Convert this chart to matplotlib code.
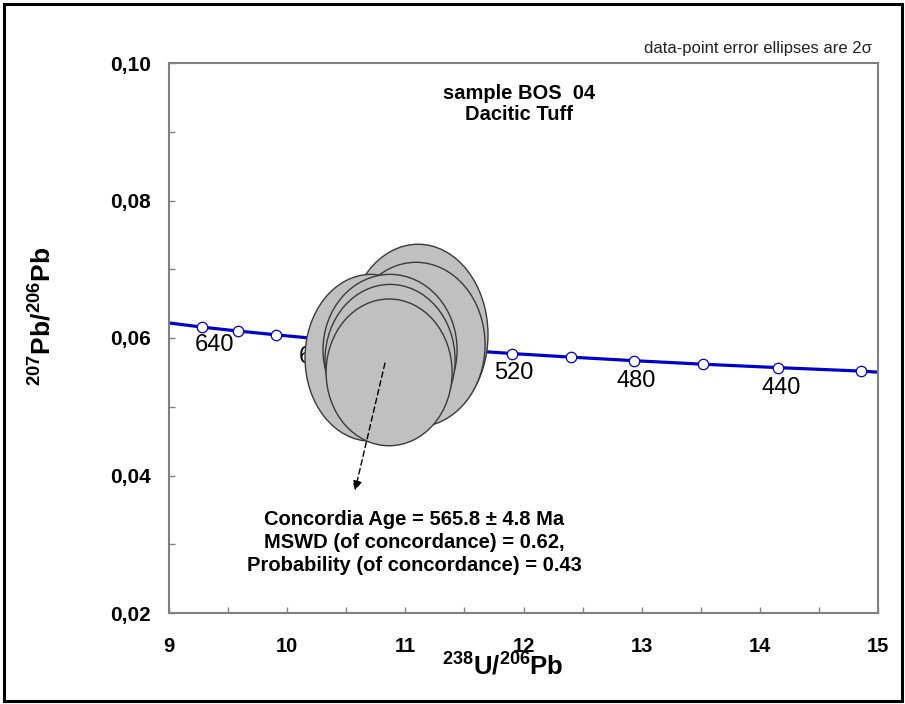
import matplotlib
matplotlib.use("Agg")
import matplotlib.pyplot as plt
from matplotlib.patches import Ellipse, Rectangle
from matplotlib.ticker import FixedLocator, FixedFormatter

plt.rcParams['font.family'] = ['Liberation Sans', 'DejaVu Sans']
plt.rcParams['mathtext.fontset'] = 'custom'
plt.rcParams['mathtext.rm'] = 'Liberation Sans'
plt.rcParams['mathtext.bf'] = 'Liberation Sans:bold'
plt.rcParams['mathtext.it'] = 'Liberation Sans:italic'

# ---- data ----
# concordia curve (238U/206Pb, 207Pb/206Pb) incl. ends at the frame
curve_x = [9.0, 9.275, 9.580, 9.905, 10.252, 10.622, 11.019, 11.445, 11.903,
           12.399, 12.936, 13.520, 14.157, 14.854, 15.0]
curve_y = [0.06219, 0.06159, 0.06102, 0.06046, 0.05990, 0.05935, 0.05881,
           0.05827, 0.05774, 0.05722, 0.05670, 0.05619, 0.05569, 0.05519, 0.05503]
# age markers (Ma) on the curve
marker_ages = [660, 640, 620, 600, 580, 560, 540, 520, 500, 480, 460, 440, 420]
marker_x = [9.275, 9.580, 9.905, 10.252, 10.622, 11.019, 11.445, 11.903,
            12.399, 12.936, 13.520, 14.157, 14.854]
marker_y = [0.06159, 0.06102, 0.06046, 0.05990, 0.05935, 0.05881, 0.05827,
            0.05774, 0.05722, 0.05670, 0.05619, 0.05569, 0.05519]
# age labels
label_text = ['640', '600', '560', '520', '480', '440']
label_x = [9.381, 10.263, 11.03, 11.920, 12.953, 14.181]
label_y = [0.05902, 0.05719, 0.0562, 0.05493, 0.05376, 0.05273]

# error ellipses (centre x, centre y, full width, full height), back to front
ell_x = [11.107, 11.090, 10.709, 10.870, 10.870, 10.862]
ell_y = [0.06048, 0.05902, 0.05712, 0.05829, 0.05683, 0.05500]
ell_w = [1.185, 1.169, 1.118, 1.135, 1.101, 1.067]
ell_h = [0.02632, 0.02398, 0.02427, 0.02193, 0.02193, 0.02135]

# arrow from ellipse cluster to the result text
arrow_start = (10.827, 0.05635)
arrow_end = (10.573, 0.03782)

x_ticks = [9, 10, 11, 12, 13, 14, 15]
x_ticklabels = ['9', '10', '11', '12', '13', '14', '15']
x_minor = [9.5, 10.5, 11.5, 12.5, 13.5, 14.5]
y_ticks = [0.02, 0.04, 0.06, 0.08, 0.10]
y_ticklabels = ['0,02', '0,04', '0,06', '0,08', '0,10']
y_minor = [0.03, 0.05, 0.07, 0.09]

title_lines = ['sample BOS  04', 'Dacitic Tuff']
result_lines = ['Concordia Age = 565.8 \u00b1 4.8 Ma',
                'MSWD (of concordance) = 0.62,',
                'Probability (of concordance) = 0.43']
note_text = 'data-point error ellipses are 2\u03c3'

# ---- figure ----
W, H = 905, 704
fig = plt.figure(figsize=(W / 100, H / 100), dpi=100)
ax = fig.add_axes([169.2 / W, 91 / H, 708.6 / W, 550 / H])
ax.set_xlim(9, 15)
ax.set_ylim(0.02, 0.10)

# outer frame
fig.patches.append(Rectangle((4 / W, 3 / H), 898 / W, 697 / H, transform=fig.transFigure,
                             fill=False, edgecolor='black', linewidth=2.2))

# concordia
ax.plot(curve_x, curve_y, color='#0000CC', lw=2.3, zorder=2, solid_capstyle='butt')
ax.plot(marker_x, marker_y, linestyle='none', marker='o', markersize=7.5,
        markerfacecolor='white', markeredgecolor='#0000CC', markeredgewidth=0.9, zorder=3)
for t, x, y in zip(label_text, label_x, label_y):
    ax.text(x, y, t, ha='center', va='center', fontsize=17, color='black', zorder=2.5)

# ellipses
for x, y, w, h in zip(ell_x, ell_y, ell_w, ell_h):
    ax.add_patch(Ellipse((x, y), w, h, facecolor='#C0C0C0', edgecolor='#3A3A3A',
                         linewidth=1.0, zorder=4))

# arrow
ax.annotate('', xy=arrow_end, xytext=arrow_start,
            arrowprops=dict(arrowstyle='-|>', color='black', lw=1.0,
                            linestyle=(0, (4, 2.5)), mutation_scale=14,
                            shrinkA=0, shrinkB=0), zorder=5)

# texts
ax.text(11.962, 0.09560, title_lines[0], ha='center', va='center',
        fontsize=14.5, fontweight='bold')
ax.text(11.962, 0.09250, title_lines[1], ha='center', va='center',
        fontsize=14.5, fontweight='bold')
for txt, y in zip(result_lines, [0.03354, 0.03026, 0.02686]):
    ax.text(11.073, y, txt, ha='center', va='center', fontsize=14.5, fontweight='bold')
fig.text(871.7 / W, 1 - 49 / H, note_text, ha='right', va='center', fontsize=12, color='#222222')

# axes styling
for s in ax.spines.values():
    s.set_color('#808080')
    s.set_linewidth(1.5)
ax.xaxis.set_major_locator(FixedLocator(x_ticks))
ax.xaxis.set_major_formatter(FixedFormatter(x_ticklabels))
ax.xaxis.set_minor_locator(FixedLocator(x_minor))
ax.yaxis.set_major_locator(FixedLocator(y_ticks))
ax.yaxis.set_major_formatter(FixedFormatter(y_ticklabels))
ax.yaxis.set_minor_locator(FixedLocator(y_minor))
ax.tick_params(axis='both', which='both', direction='in', length=4, width=1, color='#808080')
ax.tick_params(axis='x', which='major', pad=17, labelsize=14.5)
ax.tick_params(axis='y', which='major', pad=13, labelsize=15)
for lab in ax.get_xticklabels() + ax.get_yticklabels():
    lab.set_fontweight('bold')

fig.text(42 / W, 1 - 316 / H, r'$\mathbf{^{207}Pb/^{206}Pb}$', rotation=90,
         ha='center', va='center', fontsize=19)
fig.text(502.6 / W, 1 - 667 / H, r'$\mathbf{^{238}U/^{206}Pb}$',
         ha='center', va='center', fontsize=18.5)

fig.savefig('out.png', dpi=100)
